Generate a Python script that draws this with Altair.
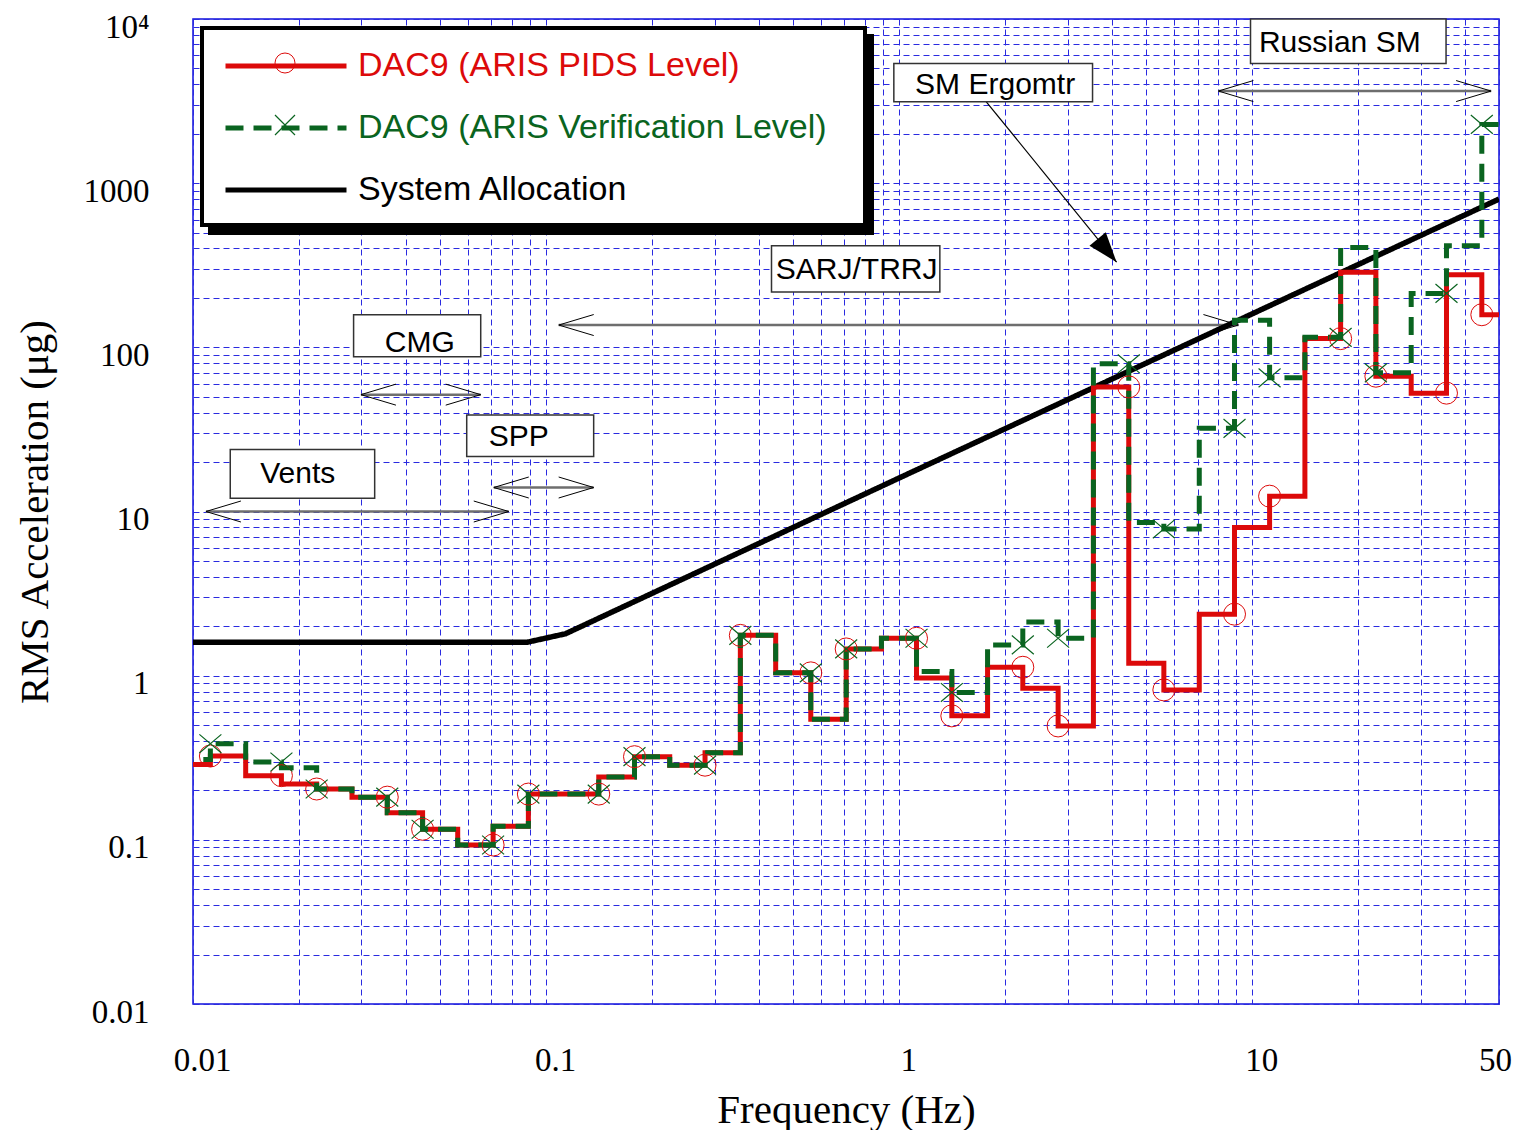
import altair as alt
import pandas as pd

# ---------------- data ----------------
# one-third octave band edges (Hz)
band_edges = [0.00891, 0.0112, 0.0141, 0.0178, 0.0224, 0.0282, 0.0355, 0.0447, 0.0562, 0.0708,
              0.0891, 0.112, 0.141, 0.178, 0.224, 0.282, 0.355, 0.447, 0.562, 0.708,
              0.891, 1.12, 1.41, 1.78, 2.24, 2.82, 3.55, 4.47, 5.62, 7.08,
              8.91, 11.2, 14.1, 17.8, 22.4, 28.2, 35.5, 44.7, 56.2]

# RMS acceleration per band (micro-g)
pids_level = [0.288, 0.324, 0.246, 0.219, 0.204, 0.182, 0.146, 0.116, 0.093, 0.121,
              0.190, 0.190, 0.241, 0.321, 0.285, 0.339, 1.76, 1.04, 0.543, 1.455,
              1.69, 0.967, 0.569, 1.125, 0.837, 0.494, 57.4, 1.19, 0.819, 2.37,
              7.98, 12.4, 113.0, 287.0, 66.7, 52.6, 277.0, 158.0]
verif_level = [0.309, 0.385, 0.298, 0.275, 0.204, 0.182, 0.146, 0.116, 0.093, 0.121,
               0.190, 0.190, 0.241, 0.321, 0.285, 0.339, 1.76, 1.04, 0.543, 1.455,
               1.69, 1.06, 0.79, 1.54, 2.12, 1.69, 79.4, 8.56, 7.83, 32.1,
               146.0, 65.2, 115.0, 405.0, 69.9, 213.0, 416.0, 2280.0]

alloc_freq = [0.01, 0.0886, 0.1135, 1.0, 10.0, 50.0]
alloc_level = [1.6, 1.6, 1.8, 16.0, 160.0, 800.0]

S_PIDS = "DAC9 (ARIS PIDS Level)"
S_VER = "DAC9 (ARIS Verification Level)"
S_SYS = "System Allocation"
series_names = [S_PIDS, S_VER, S_SYS]

# annotation boxes
box_label = ["Russian SM", "SM Ergomtr", "SARJ/TRRJ", "CMG", "SPP", "Vents"]
box_f1 = [9.89, 0.966, 0.435, 0.0285, 0.0596, 0.01275]
box_f2 = [35.4, 3.53, 1.304, 0.0653, 0.1364, 0.0327]
box_v_low = [5355, 3133, 217, 87.7, 21.6, 12.06]
box_v_high = [10000, 5355, 415, 157.8, 38.7, 23.9]
text_f = [17.7, 1.87, 0.758, 0.0439, 0.0837, 0.0198]
text_v = [7140, 3940, 295, 106.8, 28.3, 17.0]

# frequency-range double arrows
arrow_f1 = [8.02, 0.1086, 0.0299, 0.0711, 0.01088]
arrow_f2 = [47.5, 9.14, 0.0653, 0.1364, 0.0784]
arrow_v = [3640, 136.7, 51.5, 14.0, 10.0]

# pointer from "SM Ergomtr"
ptr_f = [1.726, 4.13]
ptr_v = [3325, 330]

# axis ticks
x_label_vals = [0.01, 0.1, 1, 10, 50]
x_label_text = ["0.01", "0.1", "1", "10", "50"]
y_label_vals = [0.01, 0.1, 1, 10, 100, 1000, 10000]
y_label_text = ["0.01", "0.1", "1", "10", "100", "1000", "10\u2074"]

x_grid_vals = [round(m * 10.0 ** k, 6) for k in range(-2, 1) for m in range(1, 10)] + [10, 20, 30, 40, 50]
y_grid_vals = [round(m * 10.0 ** k, 6) for k in range(-2, 4) for m in range(1, 10)] + [10000]

RED = "#dc0a0a"
GREEN = "#0a6420"
GRID = "#2a2ae0"

# ---------------- tables ----------------
def step_table(levels, name):
    rows = []
    for k, v in enumerate(levels):
        rows.append({"f": band_edges[k], "v": v, "series": name})
        rows.append({"f": band_edges[k + 1], "v": v, "series": name})
    df = pd.DataFrame(rows)
    df["i"] = range(len(df))
    return df

red_df = step_table(pids_level, S_PIDS)
green_df = step_table(verif_level, S_VER)
red_mk = red_df[red_df["i"] % 3 == 2]
green_mk = green_df[green_df["i"] % 3 == 2]

sys_df = pd.DataFrame({"f": alloc_freq, "v": alloc_level, "series": S_SYS})
sys_df["i"] = range(len(sys_df))

box_df = pd.DataFrame({"label": box_label, "f1": box_f1, "f2": box_f2,
                       "v_low": box_v_low, "v_high": box_v_high,
                       "tf": text_f, "tv": text_v})
arrow_df = pd.DataFrame({"f1": arrow_f1, "f2": arrow_f2, "v": arrow_v})
ptr_df = pd.DataFrame({"f1": [ptr_f[0]], "f2": [ptr_f[1]], "v1": [ptr_v[0]], "v2": [ptr_v[1]]})
one_row = pd.DataFrame({"k": [0]})


def label_expr(vals, texts):
    expr = "''"
    for v, t in reversed(list(zip(vals, texts))):
        expr = f"datum.value == {v} ? '{t}' : ({expr})"
    return expr


xs = alt.Scale(type="log", domain=[0.01, 50], nice=False)
ys = alt.Scale(type="log", domain=[0.01, 10000], nice=False)

x_axis = alt.Axis(values=x_grid_vals, labelExpr=label_expr(x_label_vals, x_label_text),
                  grid=True, gridColor=GRID, gridDash=[6, 4], gridWidth=1,
                  domain=False, ticks=False, tickSize=0, labelPadding=40,
                  labelFont="Liberation Serif", labelFontSize=33, labelColor="black",
                  labelOverlap=False, labelFlush=False, labelBound=False,
                  labelOffset={"condition": {"test": "datum.value == 50", "value": -4}, "value": 9},
                  title="Frequency (Hz)", titleFont="Liberation Serif", titleFontSize=41,
                  titleFontWeight="normal", titleColor="black", titlePadding=13)
y_axis = alt.Axis(values=y_grid_vals, labelExpr=label_expr(y_label_vals, y_label_text),
                  grid=True, gridColor=GRID, gridDash=[6, 4], gridWidth=1,
                  domain=False, ticks=False, tickSize=0, labelPadding=44,
                  labelFont="Liberation Serif", labelFontSize=33, labelColor="black",
                  labelOverlap=False, labelFlush=False, labelBound=False, labelOffset=8,
                  title="RMS Acceleration (\u03bcg)", titleFont="Liberation Serif", titleFontSize=41,
                  titleFontWeight="normal", titleColor="black", titlePadding=27)

color_scale = alt.Scale(domain=series_names, range=[RED, GREEN, "black"])
dash_scale = alt.Scale(domain=series_names, range=[[1, 0], [18, 10], [1, 0]])

legend = alt.Legend(orient="none", legendX=10, legendY=10, title=None, direction="vertical",
                    padding=20,
                    labelFont="Liberation Sans", labelFontSize=34, labelLimit=800,
                    labelColor=alt.ExprRef("scale('color', datum.value)"),
                    labelOffset=9, symbolType="stroke", symbolStrokeWidth=5,
                    symbolSize=14641, clipHeight=34, rowPadding=28)


def X(field):
    return alt.X(field, type="quantitative", scale=xs, axis=x_axis, title="Frequency (Hz)")


def Y(field):
    return alt.Y(field, type="quantitative", scale=ys, axis=y_axis, title="RMS Acceleration (\u03bcg)")


# legend frame: drop shadow, white box with heavy border, and the markers of the two data entries
legend_shadow = alt.Chart(one_row).mark_rect(color="black").encode(
    x=alt.value(15), x2=alt.value(681), y=alt.value(15), y2=alt.value(216))
legend_box = alt.Chart(one_row).mark_rect(fill="white", stroke="black", strokeWidth=4).encode(
    x=alt.value(9), x2=alt.value(672), y=alt.value(9), y2=alt.value(206))
legend_circle = alt.Chart(one_row).mark_point(shape="circle", filled=False, color=RED, strokeWidth=1,
                                              size=400, opacity=1).encode(
    x=alt.value(92), y=alt.value(44))
legend_cross = alt.Chart(one_row).mark_point(shape="M-1,-1L1,1M-1,1L1,-1", filled=False, color=GREEN,
                                             strokeWidth=1.2, size=400, opacity=1).encode(
    x=alt.value(92), y=alt.value(106))

arrows = alt.Chart(arrow_df).mark_rule(color="#6e6e6e", strokeWidth=2.5).encode(
    x=X("f1"), x2="f2", y=Y("v"))
heads_l = alt.Chart(arrow_df).mark_point(shape="M2,-0.6L0,0L2,0.6", filled=False, color="black",
                                         strokeWidth=1, size=1225, opacity=1).encode(x=X("f1"), y=Y("v"))
heads_r = alt.Chart(arrow_df).mark_point(shape="M-2,-0.6L0,0L-2,0.6", filled=False, color="black",
                                         strokeWidth=1, size=1225, opacity=1).encode(x=X("f2"), y=Y("v"))
pointer = alt.Chart(ptr_df).mark_rule(color="black", strokeWidth=1.2).encode(
    x=X("f1"), x2="f2", y=Y("v1"), y2="v2")
pointer_head = alt.Chart(ptr_df).mark_point(shape="M0,0L-0.7,-2L0.7,-2Z", filled=True, color="black",
                                            size=900, angle=320.7, opacity=1).encode(x=X("f2"), y=Y("v2"))
boxes = alt.Chart(box_df).mark_rect(fill="white", stroke="#333333", strokeWidth=1.5).encode(
    x=X("f1"), x2="f2", y=Y("v_low"), y2="v_high")
texts = alt.Chart(box_df).mark_text(font="Liberation Sans", fontSize=30, color="black",
                                    align="center", baseline="middle").encode(
    x=X("tf"), y=Y("tv"), text="label:N")

sys_line = alt.Chart(sys_df).mark_line(strokeWidth=5.5, clip=True).encode(
    x=X("f"), y=Y("v"),
    color=alt.Color("series:N", scale=color_scale, legend=legend),
    strokeDash=alt.StrokeDash("series:N", scale=dash_scale, legend=legend),
    order="i:Q")
red_line = alt.Chart(red_df).mark_line(strokeWidth=5, clip=True, strokeCap="butt").encode(
    x=X("f"), y=Y("v"),
    color=alt.Color("series:N", scale=color_scale, legend=legend),
    strokeDash=alt.StrokeDash("series:N", scale=dash_scale, legend=legend),
    order="i:Q")
green_line = alt.Chart(green_df).mark_line(strokeWidth=5, clip=True, strokeCap="butt").encode(
    x=X("f"), y=Y("v"),
    color=alt.Color("series:N", scale=color_scale, legend=legend),
    strokeDash=alt.StrokeDash("series:N", scale=dash_scale, legend=legend),
    order="i:Q")
red_pts = alt.Chart(red_mk).mark_point(shape="circle", filled=False, color=RED, strokeWidth=1,
                                       size=484, opacity=1, clip=True).encode(x=X("f"), y=Y("v"))
green_pts = alt.Chart(green_mk).mark_point(shape="M-1,-0.85L1,0.85M-1,0.85L1,-0.85", filled=False,
                                           color=GREEN, strokeWidth=1.2, size=484, opacity=1,
                                           clip=True).encode(x=X("f"), y=Y("v"))

chart = alt.layer(
    arrows, heads_l, heads_r, pointer, pointer_head, boxes, texts,
    sys_line, red_line, green_line, red_pts, green_pts,
    legend_shadow, legend_box, legend_circle, legend_cross
).properties(
    width=1504, height=1122,
    autosize=alt.AutoSizeParams(type="fit", contains="padding"),
    padding={"left": 6, "top": 3, "right": 0, "bottom": 0},
    background="white",
).configure_view(
    stroke="#1010dd", strokeWidth=1.5
)

chart.save("out.html", embed_options={"renderer": "svg", "actions": False})
